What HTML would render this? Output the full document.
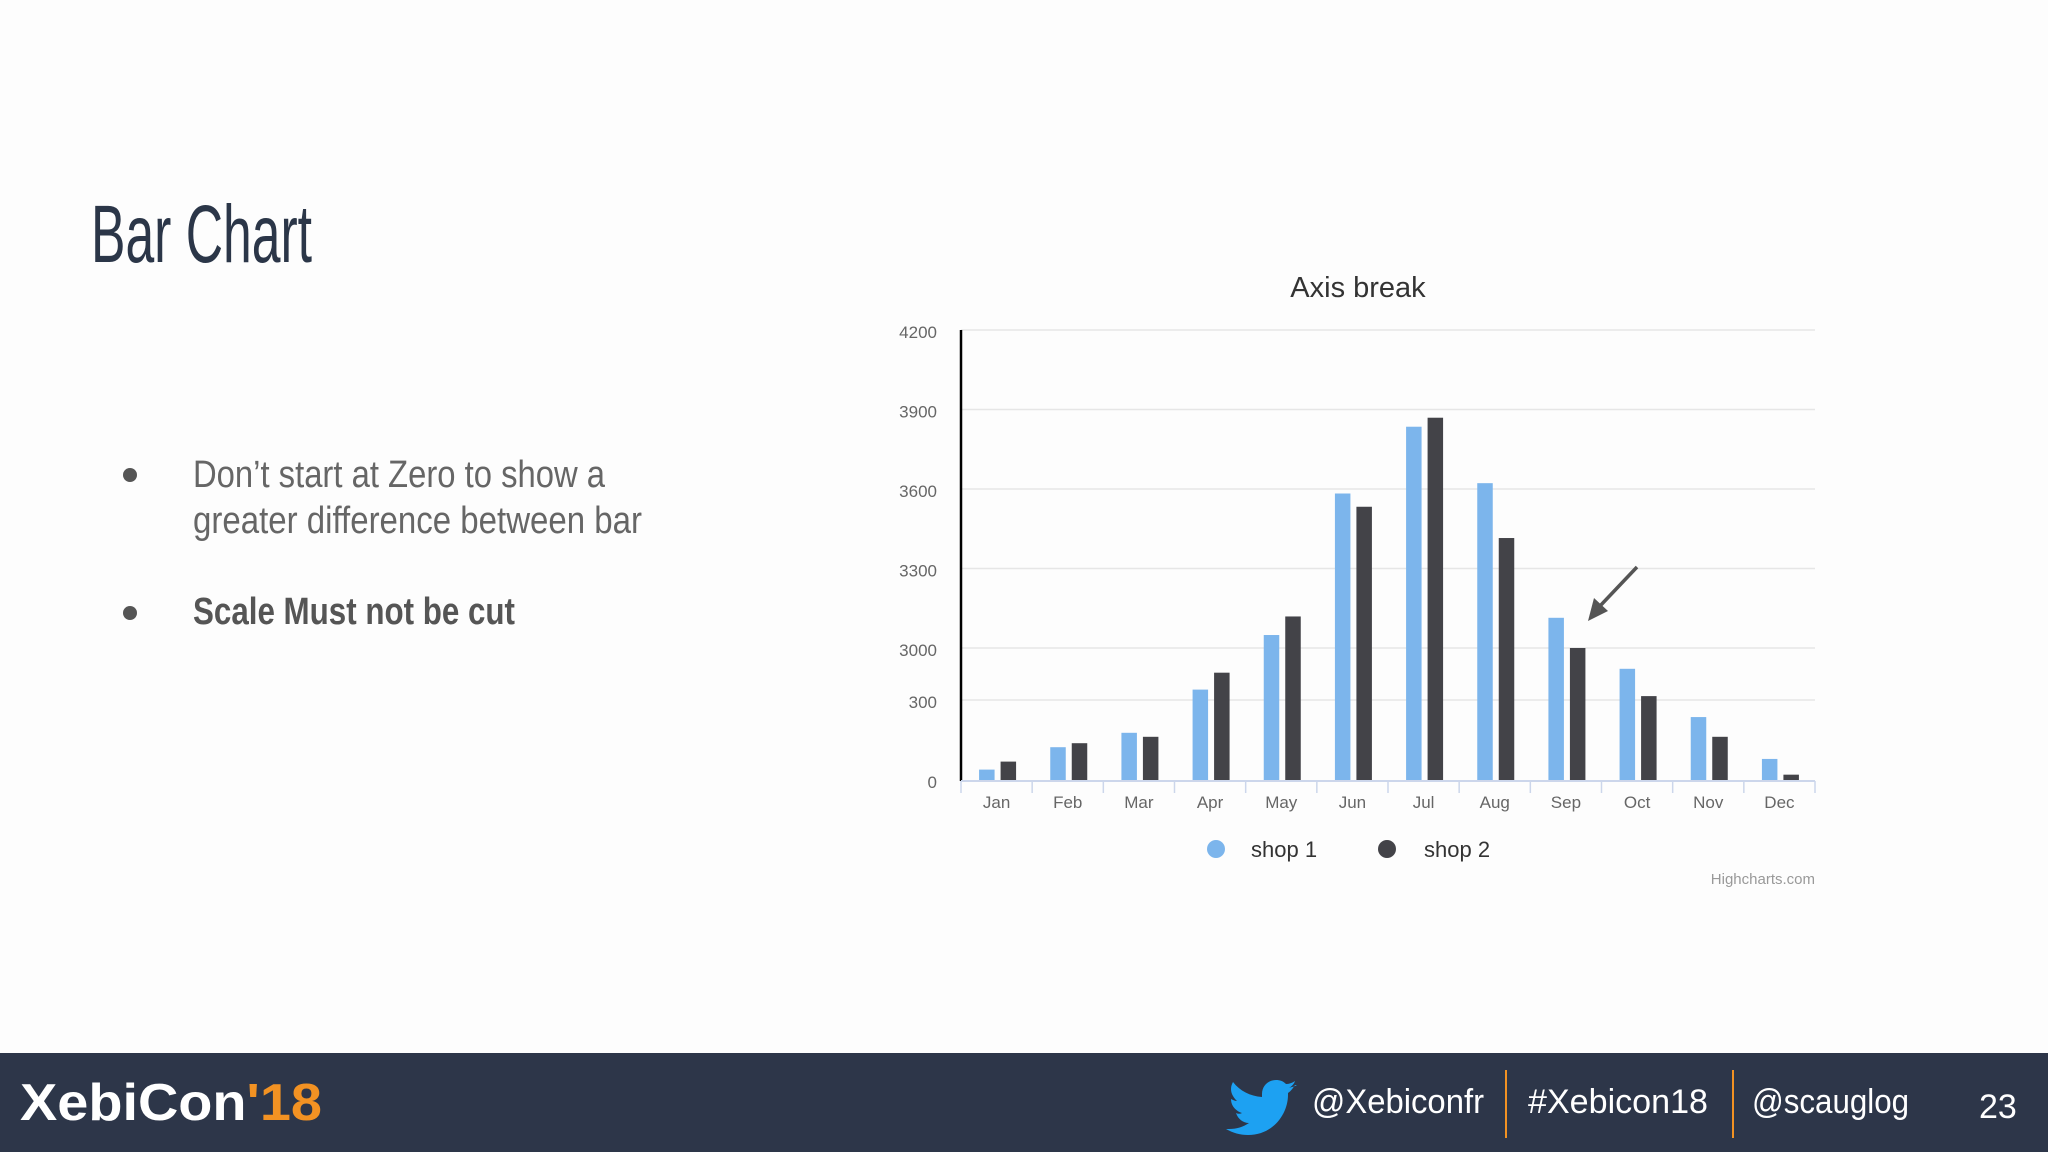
<!DOCTYPE html>
<html><head><meta charset="utf-8"><style>
html,body{margin:0;padding:0;background:#fdfdfd;}
svg{display:block;font-family:"Liberation Sans",sans-serif;}
</style></head><body>
<svg id="slide" width="2048" height="1152" viewBox="0 0 2048 1152">
<rect x="0" y="0" width="2048" height="1152" fill="#fdfdfd"/>
<text x="91" y="262" font-size="82" fill="#2b3648" textLength="221" lengthAdjust="spacingAndGlyphs">Bar Chart</text>
<g>
<circle cx="130" cy="475" r="7" fill="#555"/>
<text x="193" y="487" font-size="38" fill="#666" textLength="412" lengthAdjust="spacingAndGlyphs">Don’t start at Zero to show a</text>
<text x="193" y="533" font-size="38" fill="#666" textLength="449" lengthAdjust="spacingAndGlyphs">greater difference between bar</text>
<circle cx="130" cy="613" r="7" fill="#555"/>
<text x="193" y="624" font-size="38" font-weight="bold" fill="#555" textLength="322" lengthAdjust="spacingAndGlyphs">Scale Must not be cut</text>
</g>
<g id="chart">
<text x="1358" y="297" font-size="29" fill="#333" text-anchor="middle">Axis break</text>
</g>
<g>
<rect x="0" y="1053" width="2048" height="99" fill="#2d3649"/>
<text x="20" y="1120" font-size="52" font-weight="bold" fill="#fff" textLength="302" lengthAdjust="spacingAndGlyphs">XebiCon<tspan fill="#f29223">'18</tspan></text>
<path d="M1297 1085c-3 2-6 2-8 3 3-2 5-4 6-7-3 2-6 3-9 3-3-3-6-4-10-4-8 0-14 6-14 14 0 1 0 2 0 3-12-1-22-6-29-15-1 2-2 4-2 7 0 5 3 9 6 12-2 0-4-1-6-2 0 7 5 12 11 14-2 1-4 1-6 0 2 6 7 10 13 10-6 4-12 6-20 6h-3c7 4 14 6 22 6 26 0 40-22 40-40v-2c3-2 5-5 7-8z" fill="#1da1f2"/>
<text x="1312" y="1113" font-size="34" fill="#fff" textLength="172" lengthAdjust="spacingAndGlyphs">@Xebiconfr</text>
<rect x="1505" y="1070" width="2" height="68" fill="#f29223"/>
<text x="1528" y="1113" font-size="34" fill="#fff" textLength="180" lengthAdjust="spacingAndGlyphs">#Xebicon18</text>
<rect x="1732" y="1070" width="2" height="68" fill="#f29223"/>
<text x="1752" y="1113" font-size="34" fill="#fff" textLength="157" lengthAdjust="spacingAndGlyphs">@scauglog</text>
<text x="1979" y="1118" font-size="34" fill="#fff">23</text>
</g>
</svg>
<script>
const categories = ["Jan","Feb","Mar","Apr","May","Jun","Jul","Aug","Sep","Oct","Nov","Dec"];
const shop1 = [39,123,177,840,3049,3583,3835,3622,3114,1920,236,79];
const shop2 = [69,138,162,1718,3119,3533,3869,3415,3000,502,162,20];
const tickValues = [0,300,3000,3300,3600,3900,4200];
const tickLabels = ["0","300","3000","3300","3600","3900","4200"];

const NS = "http://www.w3.org/2000/svg";
const chart = document.getElementById("chart");
const plotL = 961, plotR = 1815;
function yScale(v){
  if (v <= 300) return 780 - v/300*80;
  if (v <= 3000) return 700 - (v-300)/2700*52;
  return 648 - (v-3000)/1200*318;
}
const catW = (plotR - plotL)/categories.length;
function xCenter(i){ return plotL + catW*(i+0.5); }
function mk(tag, attrs){ const e=document.createElementNS(NS,tag); for(const k in attrs) e.setAttribute(k,attrs[k]); chart.appendChild(e); return e; }

tickValues.forEach((v,i)=>{
  const y = yScale(v);
  if (v !== 0) {
    const g = mk("line",{x1:plotL,x2:plotR,y1:y,y2:y,stroke:"#e6e6e6","stroke-width":1.5});
    
    
  }
  const t = mk("text",{x:937,y:y+8,"font-size":17,fill:"#666","text-anchor":"end"});
  t.textContent = tickLabels[i];
  
  
});
const yAxis = mk("line",{x1:plotL,x2:plotL,y1:330,y2:781,stroke:"#000","stroke-width":2.5});


const xAxis = mk("line",{x1:plotL,x2:plotR,y1:781,y2:781,stroke:"#ccd6eb","stroke-width":2});


for (let i=0;i<=categories.length;i++){
  const x = plotL + catW*i;
  const tk = mk("line",{x1:x,x2:x,y1:781,y2:793,stroke:"#ccd6eb","stroke-width":1.5});
  
  
}
categories.forEach((c,i)=>{
  const cx = xCenter(i);
  const t = mk("text",{x:cx,y:808,"font-size":17,fill:"#666","text-anchor":"middle"});
  t.textContent = c;
  
  
  const y1 = yScale(shop1[i]);
  const b1 = mk("rect",{x:cx-17.5,y:y1,width:15.5,height:780-y1,fill:"#7cb5ec"});
  
  
  const y2 = yScale(shop2[i]);
  const b2 = mk("rect",{x:cx+4,y:y2,width:15.5,height:780-y2,fill:"#434348"});
  
  
});
const arr = mk("line",{x1:1637,y1:567,x2:1600,y2:606,stroke:"#555","stroke-width":3.5});


const head = mk("polygon",{points:"1588,621 1594,598 1608,611",fill:"#555"});


const l1 = mk("circle",{cx:1216,cy:849,r:9,fill:"#7cb5ec"});


const lt1 = mk("text",{x:1251,y:857,"font-size":22,fill:"#333"});
lt1.textContent = "shop 1";


const l2 = mk("circle",{cx:1387,cy:849,r:9,fill:"#434348"});


const lt2 = mk("text",{x:1424,y:857,"font-size":22,fill:"#333"});
lt2.textContent = "shop 2";


const cr = mk("text",{x:1815,y:884,"font-size":15,fill:"#999","text-anchor":"end"});
cr.textContent = "Highcharts.com";


</script>
</body></html>
